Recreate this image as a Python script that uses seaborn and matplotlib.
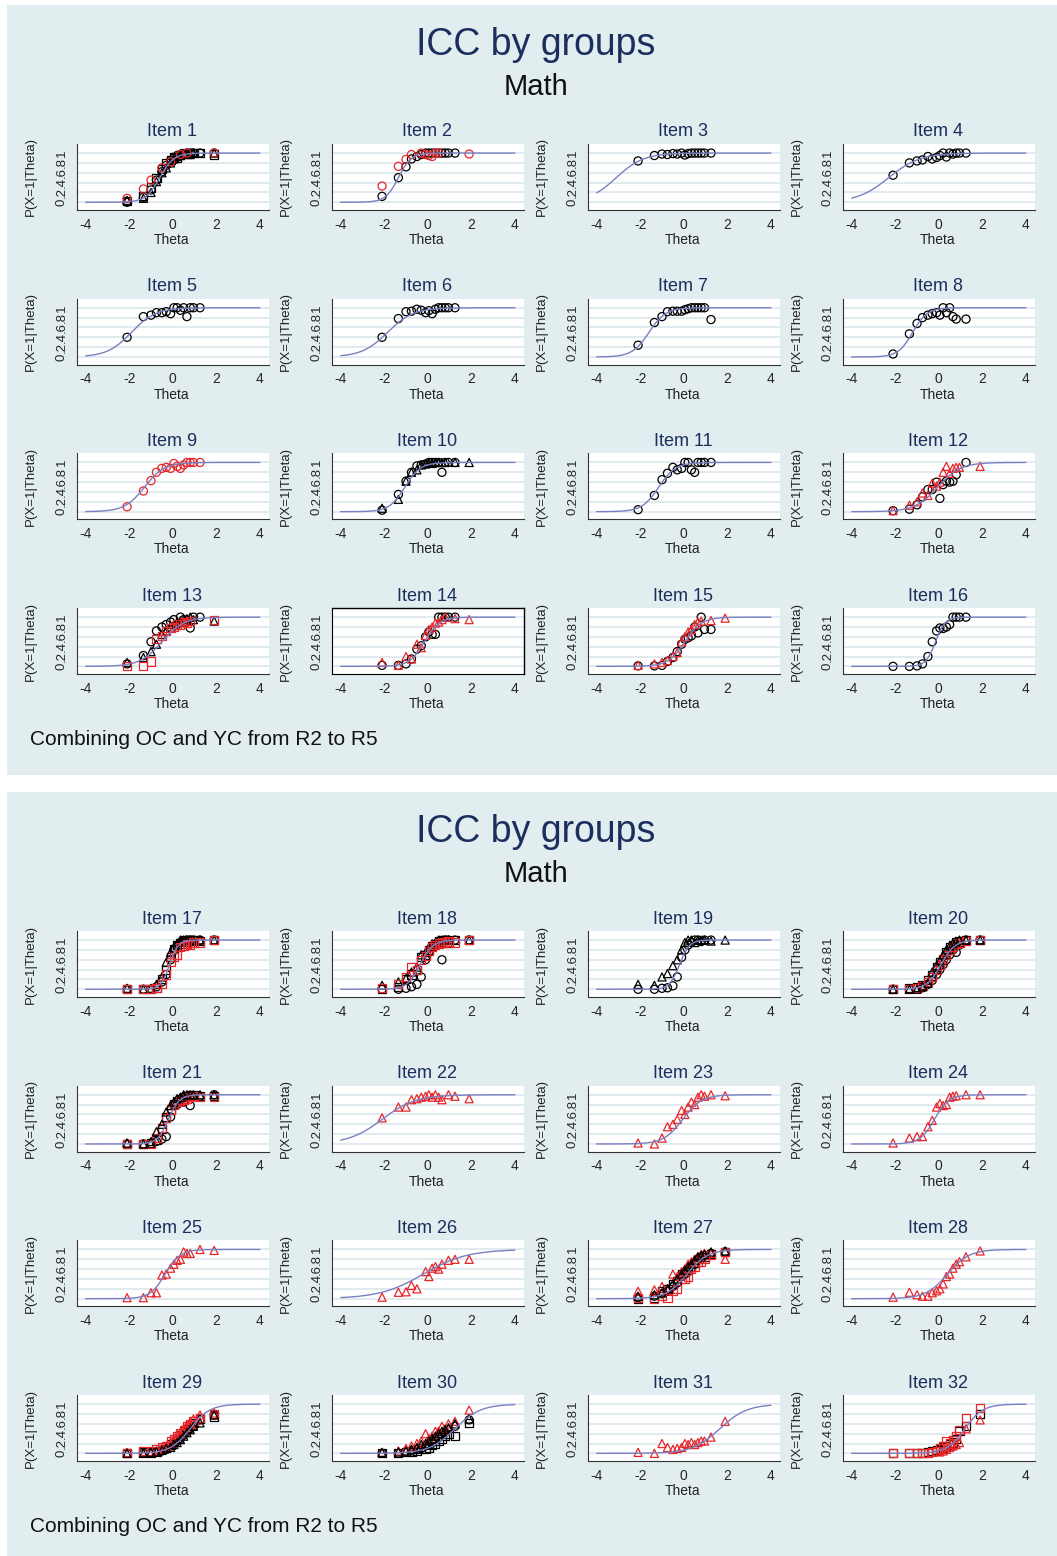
import numpy as np
import pandas as pd
import matplotlib
matplotlib.use("Agg")
import matplotlib.pyplot as plt
import seaborn as sns
from matplotlib.patches import Rectangle

NA = None

# ability groups on the x axis (same for every item)
theta_groups = [-2.1, -1.35, -1.0, -0.75, -0.5, -0.3, -0.1, 0.05, 0.2, 0.35, 0.5, 0.65, 0.8, 0.95, 1.25, 1.9]

# fitted item parameters (slope, location)
item_a = [3.1, 3.4, 1.6, 1.4, 1.8, 1.7, 2.6, 3.0, 2.2, 2.8, 2.6, 1.9, 2.0, 2.9, 2.6, 4.5,
          5.0, 3.4, 4.4, 3.1, 4.0, 1.3, 2.3, 3.0, 2.9, 1.0, 2.1, 2.0, 2.2, 1.7, 1.6, 2.4]
item_b = [-0.6, -1.35, -3.1, -2.3, -1.9, -1.85, -1.6, -1.2, -1.3, -1.05, -1.15, -0.05, -0.5, -0.15, 0.05, -0.15,
          -0.15, -0.35, -0.2, 0.1, -0.2, -2.1, -0.05, -0.2, -0.35, -0.2, 0.15, 0.4, 0.8, 1.25, 1.65, 1.2]

# observed proportions per group; key = colour + marker
obs_01 = {"ko": [0.0, 0.10, 0.25, 0.45, 0.62, 0.75, 0.85, 0.90, 0.95, 0.97, 0.98, 1.0, 1.0, 1.0, 1.0, 1.0],
          "ks": [0.02, 0.12, 0.30, 0.50, 0.68, 0.80, 0.86, 0.92, 0.90, 0.96, 1.0, 0.98, 1.0, 1.0, 1.0, 0.97],
          "k^": [0.04, 0.08, 0.20, 0.42, 0.60, 0.70, 0.80, 0.88, 0.93, 0.95, 0.99, 1.0, 0.97, 1.0, NA, 1.0],
          "ro": [0.08, 0.27, 0.45, NA, 0.70, NA, 0.82, NA, NA, 0.97, NA, 1.0, NA, NA, NA, 1.0]}
obs_02 = {"ko": [0.12, 0.50, 0.72, 0.88, 0.93, 0.97, 1.0, 1.0, 1.0, 1.0, 1.0, 1.0, 1.0, 1.0, 1.0, NA],
          "ro": [0.33, 0.73, 0.87, 0.97, NA, 1.0, 0.97, 0.95, 0.93, 1.0, 1.0, NA, NA, NA, NA, 0.98]}
obs_03 = {"ko": [0.84, 0.95, 0.98, 0.97, 0.99, 0.98, 1.0, 0.96, 0.99, 1.0, 1.0, 1.0, 1.0, 1.0, 1.0, NA]}
obs_04 = {"ko": [0.55, 0.80, 0.84, 0.86, 0.93, 0.88, 0.91, 0.95, 1.0, 0.92, 1.0, 0.98, 1.0, 1.0, 1.0, NA]}
obs_05 = {"ko": [0.40, 0.82, 0.85, 0.90, 0.90, 0.92, 0.88, 1.0, 1.0, 0.95, 1.0, 0.82, 1.0, 1.0, 1.0, NA]}
obs_06 = {"ko": [0.40, 0.78, 0.92, 0.93, 0.97, 0.95, 0.90, 0.94, 0.88, 0.97, 1.0, 1.0, 1.0, 1.0, 1.0, NA]}
obs_07 = {"ko": [0.24, 0.70, 0.82, 0.92, 0.93, 0.93, 0.93, 0.96, 0.98, 1.0, 1.0, 1.0, 1.0, 1.0, 0.76, NA]}
obs_08 = {"ko": [0.06, 0.47, 0.68, 0.80, 0.85, 0.88, 0.90, 0.85, 1.0, 0.90, 1.0, 0.82, 0.77, NA, 0.77, NA]}
obs_09 = {"ro": [0.10, 0.42, 0.63, 0.80, 0.88, 0.90, 0.88, 0.98, 0.92, 0.88, 0.95, 1.0, 1.0, 1.0, 1.0, NA]}
obs_10 = {"ko": [0.03, 0.35, 0.62, 0.80, 0.93, 0.95, 0.97, 1.0, 1.0, 1.0, 1.0, 0.80, 1.0, 1.0, 1.0, NA],
          "k^": [0.07, 0.25, 0.62, 0.80, 0.85, 0.95, 0.97, 1.0, 0.98, 1.0, 1.0, 1.0, 1.0, NA, 1.0, 1.0]}
obs_11 = {"ko": [0.04, 0.33, 0.65, 0.78, 0.90, 0.85, 0.88, 1.0, 1.0, 0.85, 0.80, 1.0, 1.0, 1.0, 1.0, NA]}
obs_12 = {"ko": [0.02, 0.05, 0.14, 0.30, 0.45, 0.45, 0.60, 0.27, 0.55, 0.62, 0.60, 0.62, 0.75, NA, 1.0, NA],
          "r^": [0.02, 0.13, 0.20, 0.38, 0.33, 0.58, 0.52, 0.60, 0.80, 0.92, 0.78, 0.88, 0.90, 0.90, NA, 0.92]}
obs_13 = {"ko": [0.05, 0.22, 0.50, 0.72, 0.80, 0.85, 0.90, 0.95, 0.85, 1.0, 0.95, 0.90, 0.78, 1.0, 1.0, NA],
          "k^": [0.08, 0.18, 0.30, 0.45, 0.65, 0.72, 0.80, 0.85, 0.90, 0.92, 0.95, 0.97, 1.0, 0.95, NA, 0.92],
          "rs": [0.0, 0.0, 0.10, 0.55, 0.62, 0.72, 0.78, 0.80, 0.85, 0.85, 0.90, 0.88, 0.92, NA, NA, 0.95]}
obs_14 = {"ko": [0.02, 0.02, 0.05, 0.15, 0.35, 0.42, 0.60, 0.70, 0.65, 0.65, 1.0, 1.0, 1.0, 1.0, 1.0, NA],
          "r^": [0.08, 0.02, 0.20, 0.15, 0.45, 0.38, 0.63, 0.75, 0.80, 0.88, 0.90, 0.95, 1.0, NA, 0.97, 0.95]}
obs_15 = {"ko": [0.01, 0.01, 0.02, 0.10, 0.18, 0.30, 0.45, 0.55, 0.58, 0.62, 0.80, 0.68, 1.0, 0.75, 0.75, NA],
          "r^": [0.02, 0.05, 0.08, 0.12, 0.20, 0.28, 0.50, 0.60, 0.70, 0.75, 0.85, 0.90, 0.92, NA, 0.93, 0.98]}
obs_16 = {"ko": [0.0, 0.0, 0.01, 0.05, 0.20, 0.50, 0.72, 0.78, 0.77, 0.80, 0.85, 1.0, 1.0, 1.0, 1.0, NA]}
obs_17 = {"ko": [0.0, 0.0, 0.0, 0.05, 0.15, 0.30, 0.60, 0.80, 0.88, 0.95, 0.97, 1.0, 1.0, 1.0, 1.0, 1.0],
          "ks": [0.0, 0.0, 0.0, 0.03, 0.20, 0.40, 0.65, 0.82, 0.90, 0.93, 1.0, 0.97, 1.0, 1.0, 0.98, 1.0],
          "k^": [0.02, 0.0, 0.02, 0.10, 0.25, 0.55, 0.75, 0.85, 0.92, 1.0, 1.0, 1.0, 1.0, 0.97, 1.0, 1.0],
          "rs": [0.0, 0.0, 0.0, 0.02, 0.10, 0.30, 0.55, 0.65, 0.70, 0.85, 0.88, 0.92, 0.90, 0.95, 0.95, 1.0]}
obs_18 = {"ko": [0.0, 0.0, 0.02, 0.05, 0.10, 0.25, 0.60, 0.75, 0.85, 0.90, 0.95, 0.60, 1.0, 1.0, 1.0, 1.0],
          "ks": [0.0, 0.05, 0.20, 0.30, 0.40, 0.65, 0.70, 0.80, 0.88, 0.92, 0.97, 1.0, 1.0, 0.95, 1.0, 1.0],
          "k^": [0.08, 0.15, 0.22, 0.35, 0.45, 0.70, 0.75, 0.85, 0.92, 0.95, 1.0, 1.0, 1.0, 1.0, NA, 1.0],
          "rs": [0.02, 0.10, 0.25, 0.45, 0.40, 0.60, 0.68, 0.78, 0.85, 0.90, 0.93, 0.95, 0.95, 0.97, 0.95, 1.0]}
obs_19 = {"ko": [0.0, 0.0, 0.02, 0.03, 0.07, 0.25, 0.65, 0.80, 0.90, 0.95, 1.0, 1.0, 0.97, 1.0, 1.0, NA],
          "k^": [0.10, 0.08, 0.25, 0.32, 0.48, 0.60, 0.80, 0.95, 1.0, 1.0, 0.95, 1.0, 1.0, 1.0, 0.98, 1.0]}
obs_20 = {"ko": [0.0, 0.0, 0.02, 0.03, 0.10, 0.18, 0.30, 0.40, 0.50, 0.60, 0.70, 0.80, 0.75, 0.90, 1.0, 1.0],
          "ks": [0.0, 0.02, 0.05, 0.08, 0.18, 0.28, 0.45, 0.55, 0.60, 0.75, 0.85, 0.90, 0.95, 0.97, 1.0, 1.0],
          "rs": [0.0, 0.0, 0.03, 0.06, 0.15, 0.25, 0.40, 0.50, 0.62, 0.70, 0.80, 0.85, 0.92, 0.95, 0.98, 1.0],
          "k^": [0.0, 0.0, 0.0, 0.05, 0.12, 0.35, 0.48, 0.58, 0.70, 0.80, 0.88, 0.93, 0.97, 1.0, 1.0, 1.0]}
obs_21 = {"ko": [0.0, 0.0, 0.0, 0.05, 0.10, 0.15, 0.55, 0.80, 0.80, 0.90, 0.85, 0.95, 0.78, 0.95, 0.97, 1.0],
          "ks": [0.0, 0.0, 0.02, 0.08, 0.30, 0.55, 0.70, 0.82, 0.88, 0.92, 0.95, 0.97, 1.0, 1.0, 0.98, 0.97],
          "rs": [0.0, 0.0, 0.0, 0.12, 0.32, 0.52, 0.70, 0.80, 0.85, 0.88, 0.90, 0.92, 0.95, 0.97, 0.95, 0.95],
          "k^": [0.02, 0.0, 0.05, 0.25, 0.40, 0.65, 0.78, 0.85, 0.92, 0.95, 1.0, 1.0, 1.0, 1.0, 1.0, 1.0]}
obs_22 = {"r^": [0.53, 0.75, 0.75, 0.90, 0.92, 0.95, 0.97, 1.0, 0.95, 1.0, 0.95, 0.90, NA, 1.0, 0.97, 0.92]}
obs_23 = {"r^": [0.02, 0.0, 0.12, 0.35, 0.40, 0.50, 0.68, 0.60, 0.75, 0.85, 0.80, 0.95, 1.0, 0.97, 1.0, 0.98]}
obs_24 = {"r^": [0.02, 0.12, 0.15, 0.15, 0.35, 0.48, 0.75, 0.82, 0.78, 0.80, 0.95, 0.97, 0.98, NA, 1.0, 1.0]}
obs_25 = {"r^": [0.02, 0.02, 0.12, 0.12, 0.48, 0.50, 0.62, 0.70, 0.78, 0.80, 0.95, 0.92, 0.92, NA, 1.0, 0.98]}
obs_26 = {"r^": [0.03, 0.13, 0.14, 0.27, 0.20, NA, 0.55, 0.45, 0.62, 0.65, 0.60, 0.70, NA, 0.78, 0.80, 0.80]}
obs_27 = {"ko": [0.02, 0.05, 0.10, 0.15, 0.25, 0.32, 0.45, 0.50, 0.55, 0.62, 0.70, 0.78, 0.82, 0.88, 0.92, 0.95],
          "ks": [0.0, 0.02, 0.15, 0.20, 0.30, 0.35, 0.50, 0.55, 0.60, 0.65, 0.72, 0.80, 0.85, 0.85, 0.90, 0.95],
          "rs": [0.02, 0.0, 0.05, 0.02, 0.15, 0.20, 0.40, 0.40, 0.45, 0.60, 0.65, 0.75, 0.75, 0.80, 0.88, 0.95],
          "r^": [0.15, 0.18, 0.25, 0.20, 0.50, 0.45, 0.55, 0.60, 0.70, 0.75, 0.80, 0.85, 0.90, 0.92, 0.92, 0.80],
          "k^": [0.05, 0.08, 0.12, 0.20, 0.30, 0.40, 0.50, 0.58, 0.65, 0.70, 0.78, 0.85, 0.88, 0.90, 0.95, 0.97]}
obs_28 = {"r^": [0.03, 0.13, 0.08, 0.05, 0.05, 0.12, 0.16, 0.20, 0.30, 0.45, 0.50, 0.62, 0.70, 0.75, 0.85, 0.97]}
obs_29 = {"ko": [0.0, 0.0, 0.02, 0.03, 0.05, 0.08, 0.15, 0.20, 0.25, 0.30, 0.38, 0.45, 0.50, 0.55, 0.68, 0.78],
          "ks": [0.0, 0.02, 0.0, 0.02, 0.08, 0.12, 0.18, 0.25, 0.30, 0.38, 0.45, 0.50, 0.55, 0.62, 0.70, 0.75],
          "rs": [0.0, 0.05, 0.05, 0.08, 0.12, 0.15, 0.25, 0.30, 0.35, 0.42, 0.48, 0.55, 0.60, 0.65, 0.72, 0.80],
          "r^": [0.02, 0.0, 0.03, 0.05, 0.10, 0.15, 0.20, 0.28, 0.38, 0.40, 0.50, 0.58, 0.62, 0.70, 0.78, 0.82],
          "k^": [0.0, 0.0, 0.02, 0.03, 0.06, 0.10, 0.12, 0.18, 0.22, 0.28, 0.35, 0.42, 0.48, 0.55, 0.62, 0.78]}
obs_30 = {"ko": [0.0, 0.0, 0.03, 0.05, 0.08, 0.10, 0.15, 0.18, 0.22, 0.28, 0.32, 0.38, 0.42, 0.48, 0.55, 0.68],
          "ks": [0.0, 0.0, 0.02, 0.03, 0.05, 0.08, 0.10, 0.12, 0.18, 0.20, 0.25, 0.30, 0.35, 0.40, 0.35, 0.62],
          "r^": [0.02, 0.05, 0.10, 0.15, 0.20, 0.25, 0.40, 0.30, 0.35, 0.45, 0.45, 0.55, 0.50, 0.60, 0.65, 0.88],
          "k^": [0.02, 0.03, 0.05, 0.08, 0.12, 0.18, 0.20, 0.25, 0.30, 0.35, 0.40, 0.45, 0.48, 0.52, 0.60, 0.70]}
obs_31 = {"r^": [0.02, 0.0, 0.20, 0.12, 0.08, 0.10, 0.12, 0.20, 0.18, 0.22, 0.18, 0.22, 0.25, 0.25, 0.33, 0.65]}
obs_32 = {"ks": [0.0, 0.0, 0.0, 0.0, 0.02, 0.05, 0.07, 0.08, 0.12, 0.15, 0.18, 0.22, 0.30, 0.45, 0.55, 0.80],
          "rs": [0.0, 0.0, 0.0, 0.0, 0.0, 0.03, 0.05, 0.10, 0.15, 0.25, 0.20, 0.28, 0.35, 0.48, 0.72, 0.92],
          "r^": [NA, NA, NA, NA, NA, NA, NA, 0.03, 0.05, 0.08, 0.12, 0.15, 0.18, 0.22, 0.50, 0.68]}

observed = [obs_01, obs_02, obs_03, obs_04, obs_05, obs_06, obs_07, obs_08,
            obs_09, obs_10, obs_11, obs_12, obs_13, obs_14, obs_15, obs_16,
            obs_17, obs_18, obs_19, obs_20, obs_21, obs_22, obs_23, obs_24,
            obs_25, obs_26, obs_27, obs_28, obs_29, obs_30, obs_31, obs_32]

y_ticks = [0, 0.2, 0.4, 0.6, 0.8, 1]
y_ticklabels = ["0", ".2", ".4", ".6", ".8", "1"]
x_ticks = [-4, -2, 0, 2, 4]

# ---------------------------------------------------------------- style
sns.set_theme(style="white")
plt.rcParams["font.family"] = ["Liberation Sans", "DejaVu Sans"]

W, H = 1057, 1556
BG = "#e2edf0"
NAVY = "#1c2e5e"
CURVE = "#7a7fc2"
RED = "#e8262a"
colors = {"k": "black", "r": RED}

fig = plt.figure(figsize=(W / 100, H / 100), dpi=100)
fig.patch.set_facecolor("white")


def fx(px):
    return px / W


def fy(py):
    return 1 - py / H


# two graph regions
for top, bot in [(5, 775), (792, 1556)]:
    fig.patches.append(Rectangle((fx(7), fy(bot)), fx(1057) - fx(7), fy(top) - fy(bot),
                                 transform=fig.transFigure, facecolor=BG, edgecolor="none", zorder=-10))

col_left = [77, 332, 588, 843]
ax_w, ax_h = 192, 66
panel_tops = [144, 931]
row_step = 154.7
grid_theta = np.linspace(-4, 4, 300)

for i in range(32):
    panel = i // 16
    r = (i % 16) // 4
    c = i % 4
    left = col_left[c]
    top = panel_tops[panel] + r * row_step
    ax = fig.add_axes([fx(left), fy(top + ax_h), ax_w / W, ax_h / H])
    ax.set_zorder(1)
    ax.set_facecolor("white")

    for key, vals in observed[i].items():
        df = pd.DataFrame({"theta": theta_groups, "p": vals}).dropna()
        sns.scatterplot(data=df, x="theta", y="p", ax=ax, marker=key[1], s=34,
                        facecolor="none", edgecolor=colors[key[0]], linewidth=0.9,
                        zorder=2, legend=False)

    curve = pd.DataFrame({"theta": grid_theta,
                          "p": 1 / (1 + np.exp(-item_a[i] * (grid_theta - item_b[i])))})
    sns.lineplot(data=curve, x="theta", y="p", ax=ax, color=CURVE, linewidth=1.0, zorder=3)

    ax.set_xlim(-4.4, 4.42)
    ax.set_ylim(-0.157, 1.184)
    ax.set_xticks(x_ticks)
    ax.set_xticklabels([str(t) for t in x_ticks])
    ax.set_yticks(y_ticks)
    ax.set_yticklabels(y_ticklabels, rotation=90, va="center")
    ax.yaxis.grid(True, color="#d8e4ea", linewidth=1.1)
    ax.xaxis.grid(False)
    ax.set_axisbelow(True)
    ax.set_xlabel("")
    ax.set_ylabel("")
    ax.tick_params(axis="both", direction="out", length=4, width=0.8, color="#333333")
    ax.tick_params(axis="x", labelsize=10, pad=1.5)
    ax.tick_params(axis="y", labelsize=9.5, pad=2.5)
    for side in ["left", "bottom"]:
        ax.spines[side].set_color("#333333")
        ax.spines[side].set_linewidth(0.8)
    if i == 13:
        for side in ["top", "right"]:
            ax.spines[side].set_color("black")
            ax.spines[side].set_linewidth(1.0)
        ax.spines["left"].set_color("black")
        ax.spines["bottom"].set_color("black")
    else:
        ax.spines["top"].set_visible(False)
        ax.spines["right"].set_visible(False)

    fig.text(fx(left + 95), fy(top - 12), f"Item {i + 1}", ha="center", va="center",
             fontsize=13, color=NAVY)
    fig.text(fx(left + 95), fy(top + ax_h + 30), "Theta", ha="center", va="center",
             fontsize=10, color="#222222")
    fig.text(fx(left - 46), fy(top + ax_h / 2), "P(X=1|Theta)", ha="center", va="center",
             rotation=90, fontsize=9.5, color="#222222")

for off in [0, 787]:
    fig.text(fx(536), fy(45 + off), "ICC by groups", ha="center", va="center", fontsize=27, color=NAVY)
    fig.text(fx(536), fy(87 + off), "Math", ha="center", va="center", fontsize=21, color="#111111")
for yy in [740, 1527]:
    fig.text(fx(30), fy(yy), "Combining OC and YC from R2 to R5", ha="left", va="center",
             fontsize=15, color="#111111")

fig.savefig("out.png", dpi=100, facecolor="white")
